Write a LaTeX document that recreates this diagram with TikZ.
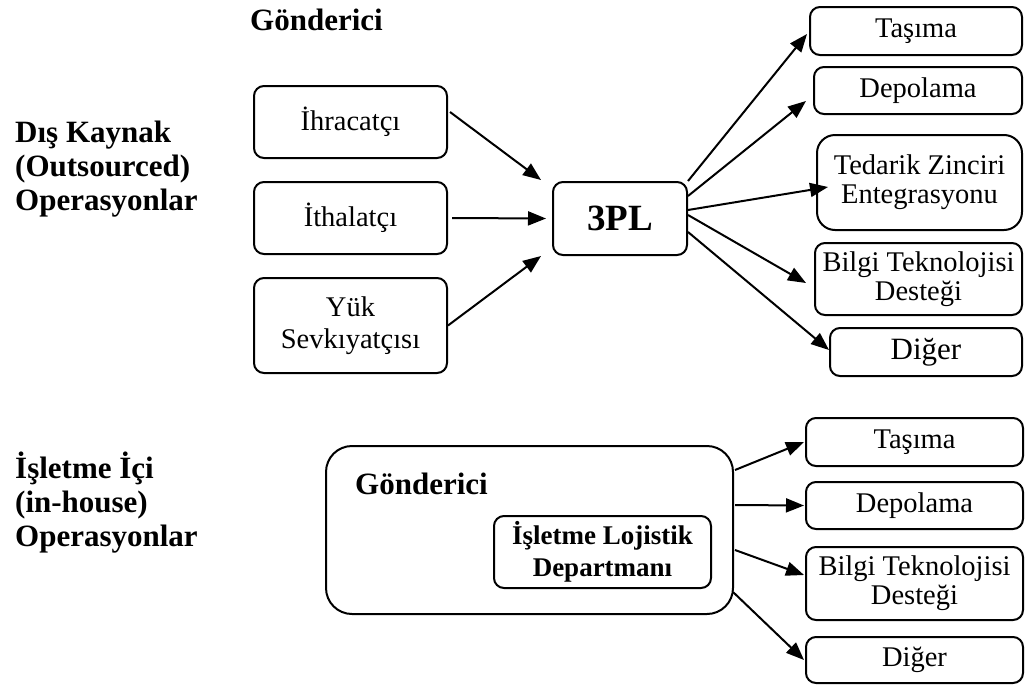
\documentclass[tikz,border=0pt]{standalone}
\usepackage{fontspec}
\setmainfont{Liberation Serif}
\usetikzlibrary{arrows.meta,positioning}

% font sizes (1pt = one unit of the drawing grid)
\newcommand{\boxfont}{\fontsize{28.5}{29}\selectfont}
\newcommand{\wideboxfont}{\fontsize{28.5}{32}\selectfont}
\newcommand{\bigboxfont}{\fontsize{31}{31}\selectfont}
\newcommand{\headfont}{\fontsize{31}{34}\selectfont\bfseries}
\newcommand{\deptfont}{\fontsize{27}{32}\selectfont\bfseries}
\newcommand{\plfont}{\fontsize{37}{37}\selectfont\bfseries}
% line strut for the three-line side headings
\newcommand{\hs}{\rule[-10pt]{0pt}{34pt}}

\tikzset{
  box/.style={draw, line width=2pt, rounded corners=10pt, inner sep=0pt,
              align=center, font=\boxfont},
  arr/.style={line width=2pt, -{Triangle[length=18pt,width=14pt]}},
  heading/.style={inner sep=0pt, align=left, font=\headfont, anchor=west},
}

\begin{document}
\begin{tikzpicture}[x=1pt,y=-1pt]
\useasboundingbox (0,0) rectangle (1035,688);

% ---------- outsourced operations ----------
\node[heading] (outlbl) at (15,169) {\hs Dış Kaynak\\\hs (Outsourced)\\\hs Operasyonlar};
\node[inner sep=0pt, anchor=base west, font=\headfont] (gontop) at (250,30) {Gönderici};

\node[box, minimum width=193, minimum height=72] (ihr) at (350.5,122) {İhracatçı};
\node[box, minimum width=193, minimum height=72] (ith) at (350.5,218) {İthalatçı};
\node[box, minimum width=193, minimum height=95, font=\wideboxfont] (yuk) at (350.5,325.5) {Yük\\Sevkıyatçısı};

\node[box, minimum width=134, minimum height=73, font=\plfont] (tpl) at (620,218.5) {3PL};

\node[box, minimum width=212, minimum height=48] (tas1) at (916,31) {Taşıma};
\node[box, minimum width=208, minimum height=47] (dep1) at (918,90.5) {Depolama};
\node[box, minimum width=205, minimum height=95, rounded corners=18pt] (ted) at (919.5,182.5) {Tedarik Zinciri\\Entegrasyonu};
\node[box, minimum width=207, minimum height=72] (bil1) at (918.5,279) {Bilgi Teknolojisi\\Desteği};
\node[box, minimum width=192, minimum height=48, font=\bigboxfont] (dig1) at (926,352) {Diğer};

\draw[arr] ([shift={(2,-10)}]ihr.east) -- ([shift={(-11,-1)}]tpl.north west);
\draw[arr] ([shift={(4,0)}]ith.east) -- ([shift={(-6,0)}]tpl.west);
\draw[arr] (yuk.east) -- ([shift={(-11,0)}]tpl.south west);

\draw[arr] (tpl.north east) -- ([shift={(-2,3)}]tas1.west);
\draw[arr] ([shift={(0,15)}]tpl.north east) -- ([shift={(-7,10.5)}]dep1.west);
\draw[arr] ([shift={(0,-8.5)}]tpl.east) -- ([shift={(12,4.5)}]ted.west);
\draw[arr] ([shift={(0,-3.5)}]tpl.east) -- ([shift={(-8,4)}]bil1.west);
\draw[arr] ([shift={(0,13.5)}]tpl.east) -- ([shift={(0,-2)}]dig1.west);

% ---------- in-house operations ----------
\node[heading] (inlbl) at (15,504) {\hs İşletme İçi\\\hs (in-house)\\\hs Operasyonlar};

\node[box, minimum width=407, minimum height=168, rounded corners=26pt] (gon) at (529.5,530) {};
\node[inner sep=0pt, anchor=base west, font=\headfont] (gonin) at (355,494) {Gönderici};
\node[box, minimum width=217, minimum height=72, font=\deptfont] (dept) at (602.5,552) {İşletme Lojistik\\Departmanı};

\node[box, minimum width=217, minimum height=48] (tas2) at (914.5,442) {Taşıma};
\node[box, minimum width=217, minimum height=47] (dep2) at (914.5,505.5) {Depolama};
\node[box, minimum width=217, minimum height=73] (bil2) at (914.5,583.5) {Bilgi Teknolojisi\\Desteği};
\node[box, minimum width=217, minimum height=46] (dig2) at (914.5,660) {Diğer};

\draw[arr] ([shift={(1,-60)}]gon.east) -- ([shift={(-1,0)}]tas2.west);
\draw[arr] ([shift={(1,-25)}]gon.east) -- ([shift={(-1,0)}]dep2.west);
\draw[arr] ([shift={(1,20)}]gon.east) -- ([shift={(-1,-8.5)}]bil2.west);
\draw[arr] ([shift={(-1,62)}]gon.east) -- ([shift={(-1,0)}]dig2.west);
\end{tikzpicture}
\end{document}
